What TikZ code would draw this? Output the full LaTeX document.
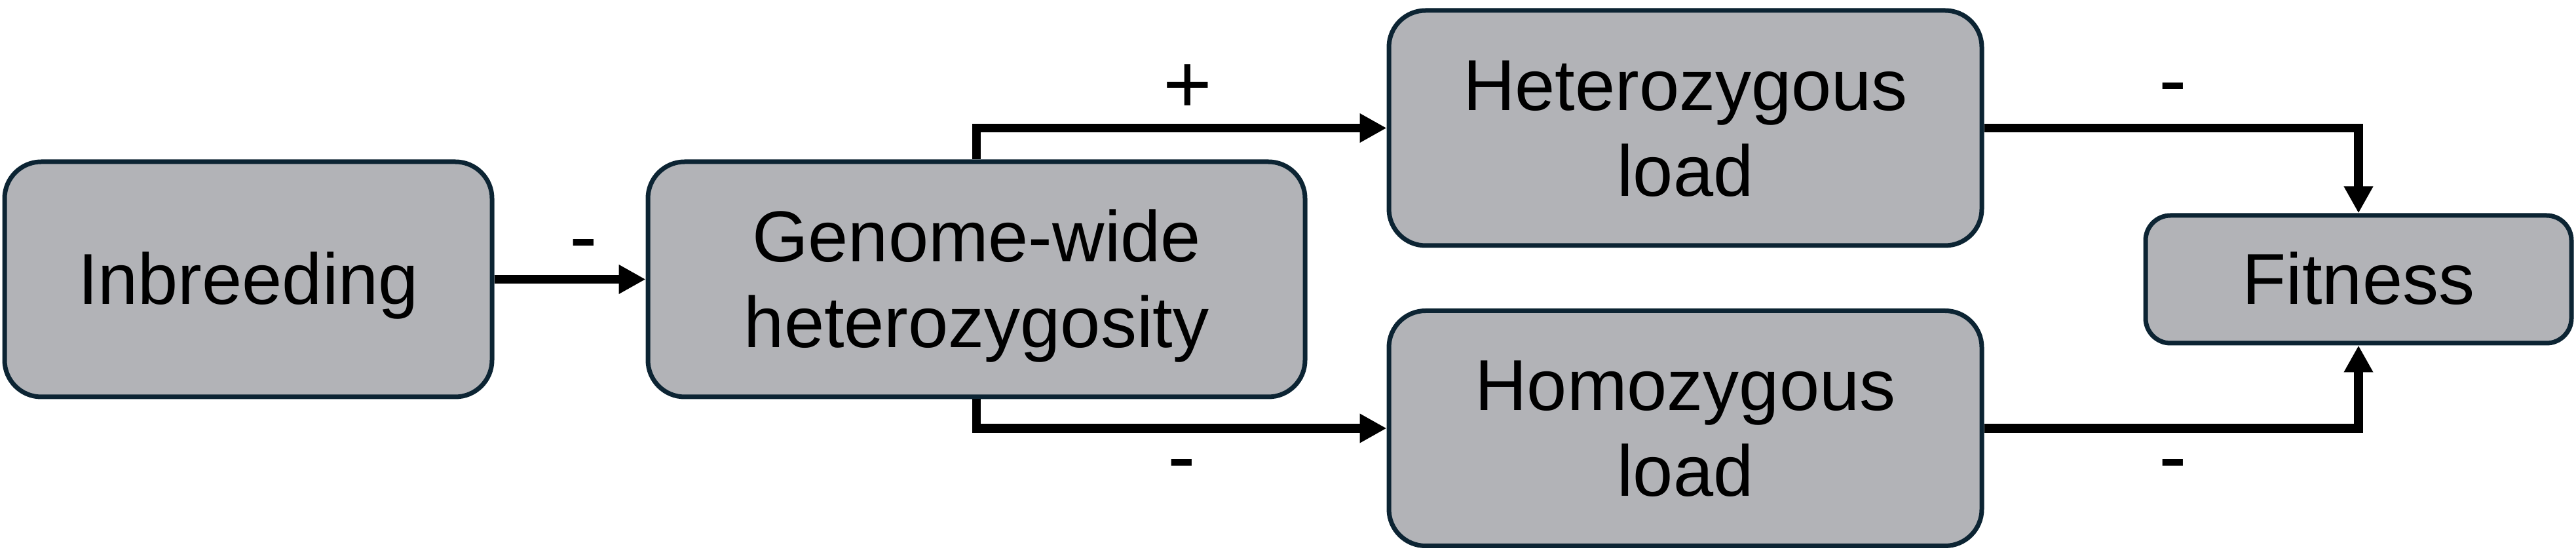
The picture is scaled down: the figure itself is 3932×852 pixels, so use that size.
\documentclass[tikz,border=0pt]{standalone}
\usepackage{fontspec}
\setmainfont{Liberation Sans}
\usetikzlibrary{arrows.meta}
\definecolor{boxfill}{HTML}{B2B3B7}
\definecolor{boxline}{HTML}{0C2433}
\newcommand\tstr{\rule{0pt}{0.905em}}
\newcommand\bstr{\rule[-0.212em]{0pt}{0pt}}
\begin{document}
\begin{tikzpicture}[x=0.25pt,y=-0.25pt,
  box/.style={draw=boxline,fill=boxfill,line width=1.75pt,rounded corners=14pt,
    align=center,inner sep=0pt,font=\fontsize{27.5}{32.75}\selectfont,minimum height=89.75pt},
  conn/.style={line width=3.4pt,-{Triangle[length=10.25pt,width=10.5pt]}},
  sign/.style={inner sep=0pt,anchor=base,font=\fontsize{32}{38}\selectfont}]
\useasboundingbox (0,0) rectangle (3932,852);
\node[box,minimum width=186pt] (inb) at (379,426.5) {\tstr Inbreeding\bstr};
\node[box,minimum width=250.75pt] (gen) at (1490.5,426.5) {\tstr Genome-wide\\heterozygosity\bstr};
\node[box,minimum width=226.25pt] (het) at (2572.5,195.5) {\tstr Heterozygous\\load\bstr};
\node[box,minimum width=226.25pt] (hom) at (2572.5,654) {\tstr Homozygous\\load\bstr};
\node[box,minimum width=162.5pt,minimum height=48.75pt,rounded corners=9.5pt] (fit) at (3600,426.5) {\tstr Fitness\bstr};
\draw[conn] (inb.east) -- (gen.west);
\draw[conn] (gen.north) |- (het.west);
\draw[conn] (gen.south) |- (hom.west);
\draw[conn] (het.east) -| (fit.north);
\draw[conn] (hom.east) -| (fit.south);
\node[sign] (s1) at (891,405) {-};
\node[sign] (s2) at (1813,173) {+};
\node[sign] (s3) at (1804,741) {-};
\node[sign] (s4) at (3317,166) {-};
\node[sign] (s5) at (3317,741) {-};
\end{tikzpicture}
\end{document}
